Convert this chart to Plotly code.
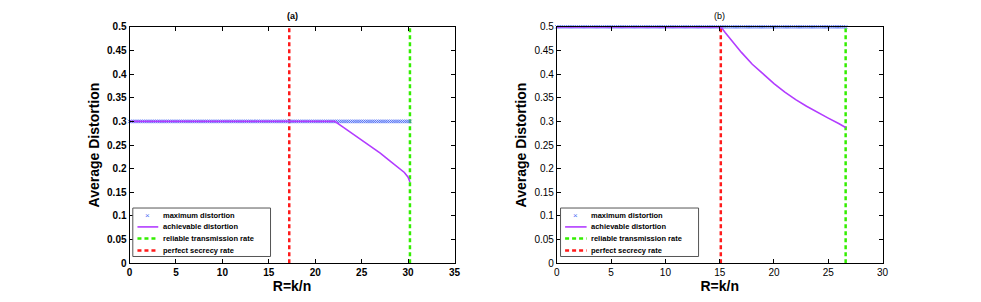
import numpy as np
import plotly.graph_objects as go

# ---------------- data ----------------
# panel (a)
a_max_distortion = 0.3
a_rate_end = 30.2
a_perfect_secrecy_rate = 17.2
a_reliable_rate = 30.2
a_ach_x = [0, 22.1, 23.0, 24.0, 25.0, 26.0, 27.0, 28.0, 29.0, 29.6, 30.0, 30.2]
a_ach_y = [0.300, 0.300, 0.288, 0.274, 0.261, 0.247, 0.233, 0.217, 0.202, 0.192, 0.182, 0.172]

# panel (b)
b_max_distortion = 0.5
b_rate_end = 26.6
b_perfect_secrecy_rate = 15.1
b_reliable_rate = 26.6
b_ach_x = [0, 15.1, 15.5, 16.0, 17.0, 18.0, 19.0, 20.0, 21.0, 22.0, 23.0, 24.0, 25.0, 26.0, 26.6]
b_ach_y = [0.5, 0.5, 0.488, 0.474, 0.446, 0.421, 0.400, 0.380, 0.362, 0.346, 0.332, 0.319, 0.307, 0.295, 0.287]

marker_step = 0.2

a_xticks = [0, 5, 10, 15, 20, 25, 30, 35]
b_xticks = [0, 5, 10, 15, 20, 25, 30]
yticks = [0, 0.05, 0.1, 0.15, 0.2, 0.25, 0.3, 0.35, 0.4, 0.45, 0.5]
ytick_labels = ["0", "0.05", "0.1", "0.15", "0.2", "0.25", "0.3", "0.35", "0.4", "0.45", "0.5"]

legend_labels = ["maximum distortion", "achievable distortion",
                 "reliable transmission rate", "perfect secrecy rate"]

# ---------------- styling ----------------
W, H = 981, 302
BLUE = "#4f6ff5"
PURPLE = "#b23cff"
GREEN = "#33ee00"
RED = "#ff1a1a"
FONT = "Liberation Sans, Arial, sans-serif"


def px(x):
    return x / W


def py(y):
    return 1 - y / H


fig = go.Figure()

panels = [
    dict(xa="x", ya="y", mx=a_max_distortion, end=a_rate_end, ps=a_perfect_secrecy_rate,
         rr=a_reliable_rate, ax=a_ach_x, ay=a_ach_y),
    dict(xa="x2", ya="y2", mx=b_max_distortion, end=b_rate_end, ps=b_perfect_secrecy_rate,
         rr=b_reliable_rate, ax=b_ach_x, ay=b_ach_y),
]

for p in panels:
    xs = np.arange(0, p["end"] + 1e-9, marker_step)
    fig.add_trace(go.Scatter(x=[p["ps"], p["ps"]], y=[0, 0.5], mode="lines",
                             line=dict(color=RED, width=2.5, dash="4px,3px"),
                             xaxis=p["xa"], yaxis=p["ya"], showlegend=False, cliponaxis=False))
    fig.add_trace(go.Scatter(x=[p["rr"], p["rr"]], y=[0, 0.5], mode="lines",
                             line=dict(color=GREEN, width=2.5, dash="4px,3px"),
                             xaxis=p["xa"], yaxis=p["ya"], showlegend=False, cliponaxis=False))
    fig.add_trace(go.Scatter(x=xs, y=[p["mx"]] * len(xs), mode="markers",
                             marker=dict(symbol="x-thin", size=3.5, color=BLUE,
                                         line=dict(color=BLUE, width=0.8)),
                             xaxis=p["xa"], yaxis=p["ya"], showlegend=False, cliponaxis=False))
    fig.add_trace(go.Scatter(x=p["ax"], y=p["ay"], mode="lines",
                             line=dict(color=PURPLE, width=1.6),
                             xaxis=p["xa"], yaxis=p["ya"], showlegend=False, cliponaxis=False))

common_axis = dict(showgrid=False, zeroline=False, showline=True, linecolor="black", linewidth=1,
                   mirror="ticks", ticks="inside", ticklen=4, tickcolor="black")

# panel geometry (pixels)
A_L, A_R = 127.7, 455.7
B_L, B_R = 559.0, 887.7
TOP, BOT = 22.7, 268.0

fig.update_layout(
    width=W, height=H, margin=dict(l=0, r=0, t=0, b=0),
    paper_bgcolor="white", plot_bgcolor="white",
    font=dict(family=FONT, color="black"),
    xaxis=dict(domain=[px(A_L), px(A_R)], anchor="y", range=[0, 35], tickvals=a_xticks,
               tickfont=dict(size=10, weight="bold"),
               title=dict(text="R=k/n", font=dict(size=14, weight="bold"), standoff=2), **common_axis),
    yaxis=dict(domain=[py(BOT), py(TOP)], anchor="x", range=[0, 0.5], tickvals=yticks,
               ticktext=ytick_labels, tickfont=dict(size=10, weight="bold"),
               title=dict(text="Average Distortion", font=dict(size=14, weight="bold"), standoff=4),
               **common_axis),
    xaxis2=dict(domain=[px(B_L), px(B_R)], anchor="y2", range=[0, 30], tickvals=b_xticks,
                tickfont=dict(size=10),
                title=dict(text="R=k/n", font=dict(size=14, weight="bold"), standoff=2), **common_axis),
    yaxis2=dict(domain=[py(BOT), py(TOP)], anchor="x2", range=[0, 0.5], tickvals=yticks,
                ticktext=ytick_labels, tickfont=dict(size=10),
                title=dict(text="Average Distortion", font=dict(size=14, weight="bold"), standoff=4),
                **common_axis),
)

annotations = [
    dict(text="(a)", x=px((A_L + A_R) / 2), y=py(11), xref="paper", yref="paper",
         showarrow=False, font=dict(size=9, weight="bold"), xanchor="center", yanchor="middle"),
    dict(text="(b)", x=px((B_L + B_R) / 2), y=py(11), xref="paper", yref="paper",
         showarrow=False, font=dict(size=9), xanchor="center", yanchor="middle"),
]
shapes = []

# manual legends (one per panel)
legend_boxes = [
    dict(x0=131.0, x1=270.0, ls=135.7, le=156.7, mk=146.0, tx=159.7),
    dict(x0=562.7, x1=702.0, ls=567.3, le=589.0, mk=577.7, tx=591.3),
]
rows = [218.3, 230.3, 242.3, 254.7]
for lb in legend_boxes:
    shapes.append(dict(type="rect", xref="paper", yref="paper",
                       x0=px(lb["x0"]), x1=px(lb["x1"]), y0=py(261.0), y1=py(210.7),
                       line=dict(color="#555555", width=1), fillcolor="white", layer="above"))
    # maximum distortion marker
    annotations.append(dict(text="×", x=px(lb["mk"]), y=py(rows[0]), xref="paper", yref="paper",
                            showarrow=False, font=dict(size=8, color=BLUE),
                            xanchor="center", yanchor="middle"))
    shapes.append(dict(type="line", xref="paper", yref="paper", x0=px(lb["ls"]), x1=px(lb["le"]),
                       y0=py(rows[1]), y1=py(rows[1]), line=dict(color=PURPLE, width=1.6), layer="above"))
    shapes.append(dict(type="line", xref="paper", yref="paper", x0=px(lb["ls"]), x1=px(lb["le"]),
                       y0=py(rows[2]), y1=py(rows[2]), line=dict(color=GREEN, width=2.5, dash="4px,3px"),
                       layer="above"))
    shapes.append(dict(type="line", xref="paper", yref="paper", x0=px(lb["ls"]), x1=px(lb["le"]),
                       y0=py(rows[3]), y1=py(rows[3]), line=dict(color=RED, width=2.5, dash="4px,3px"),
                       layer="above"))
    for r, lab in zip(rows, legend_labels):
        annotations.append(dict(text=lab, x=px(lb["tx"]), y=py(r), xref="paper", yref="paper",
                                showarrow=False, font=dict(size=7.5, weight="bold"),
                                xanchor="left", yanchor="middle"))

fig.update_layout(annotations=annotations, shapes=shapes)

page_css = ("var s=document.createElement('style');"
            "s.innerHTML='html,body{margin:0;padding:0;overflow:hidden;height:302px;width:981px;}"
            "body>div{margin:0;padding:0;height:302px;}';"
            "document.head.appendChild(s);")

fig.write_html("out.html", config={"displayModeBar": False}, post_script=page_css)
